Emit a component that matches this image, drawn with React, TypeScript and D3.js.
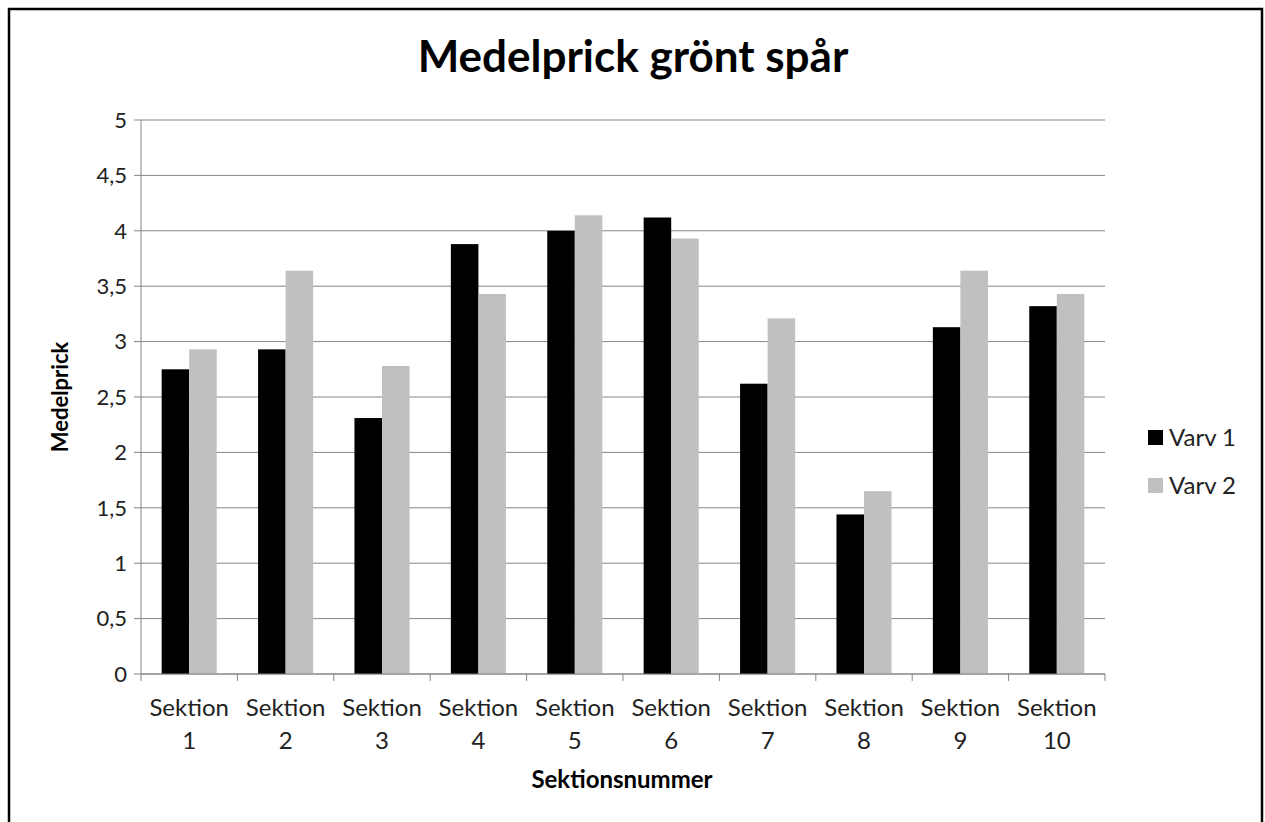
import * as d3 from "d3";

const categories = ["1", "2", "3", "4", "5", "6", "7", "8", "9", "10"];
const seriesNames = ["Varv 1", "Varv 2"];
const varv1 = [2.75, 2.93, 2.31, 3.88, 4.0, 4.12, 2.62, 1.44, 3.13, 3.32];
const varv2 = [2.93, 3.64, 2.78, 3.43, 4.14, 3.93, 3.21, 1.65, 3.64, 3.43];
const yTicks = [0, 0.5, 1, 1.5, 2, 2.5, 3, 3.5, 4, 4.5, 5];
const colors = ["#000000", "#c0c0c0"];

const W = 1265;
const H = 822;
const plot = { left: 141, right: 1105, top: 120, bottom: 674 };
const FONT = "Lato, 'Open Sans', sans-serif";

export default function App() {
  const x0 = d3
    .scaleBand<string>()
    .domain(categories)
    .range([plot.left, plot.right])
    .padding(0);
  const x1 = d3
    .scaleBand<string>()
    .domain(seriesNames)
    .range([0, x0.bandwidth()])
    .paddingInner(0)
    .paddingOuter(0.75);
  const y = d3.scaleLinear().domain([0, 5]).range([plot.bottom, plot.top]);

  const series = [varv1, varv2];
  const fmt = (v: number) => String(v).replace(".", ",");

  return (
    <svg
      width={W}
      height={H}
      style={{ position: "absolute", left: 0, top: 0, background: "#fff" }}
      fontFamily={FONT}
    >
      <rect x={9} y={9} width={1253} height={840} fill="#fff" stroke="#000" strokeWidth={2.5} />

      <text x={633} y={72} textAnchor="middle" fontSize={44} fontWeight="bold" fill="#000">
        Medelprick grönt spår
      </text>

      {/* gridlines */}
      {yTicks.map((t) => (
        <g key={t}>
          <line x1={plot.left - 7} x2={plot.right} y1={y(t)} y2={y(t)} stroke="#868686" strokeWidth={1} />
          <text x={plot.left - 14} y={y(t)} dy="0.35em" textAnchor="end" fontSize={22} fill="#222">
            {fmt(t)}
          </text>
        </g>
      ))}

      {/* bars */}
      {series.map((vals, si) =>
        vals.map((v, i) => (
          <rect
            key={`${si}-${i}`}
            x={(x0(categories[i]) ?? 0) + (x1(seriesNames[si]) ?? 0)}
            y={y(v)}
            width={x1.bandwidth()}
            height={y(0) - y(v)}
            fill={colors[si]}
          />
        ))
      )}

      {/* axes */}
      <line x1={plot.left} x2={plot.left} y1={plot.top} y2={plot.bottom} stroke="#868686" />
      <line x1={plot.left} x2={plot.right} y1={plot.bottom} y2={plot.bottom} stroke="#868686" />
      {d3.range(categories.length + 1).map((k) => {
        const xx = plot.left + k * x0.step();
        return <line key={k} x1={xx} x2={xx} y1={plot.bottom} y2={plot.bottom + 7} stroke="#868686" />;
      })}

      {categories.map((c) => {
        const cx = (x0(c) ?? 0) + x0.bandwidth() / 2;
        return (
          <text key={c} textAnchor="middle" fontSize={24} fill="#222">
            <tspan x={cx} y={716}>Sektion</tspan>
            <tspan x={cx} y={749}>{c}</tspan>
          </text>
        );
      })}

      <text
        transform={`translate(68,397) rotate(-90)`}
        textAnchor="middle"
        fontSize={22}
        fontWeight="bold"
        fill="#000"
      >
        Medelprick
      </text>
      <text x={622} y={788} textAnchor="middle" fontSize={24} fontWeight="bold" fill="#000">
        Sektionsnummer
      </text>

      {/* legend */}
      {seriesNames.map((s, i) => (
        <g key={s} transform={`translate(1148,${430 + i * 48})`}>
          <rect x={0} y={0} width={15} height={15} fill={colors[i]} />
          <text x={21} y={8} dy="0.35em" fontSize={24} fill="#222">
            {s}
          </text>
        </g>
      ))}
    </svg>
  );
}
